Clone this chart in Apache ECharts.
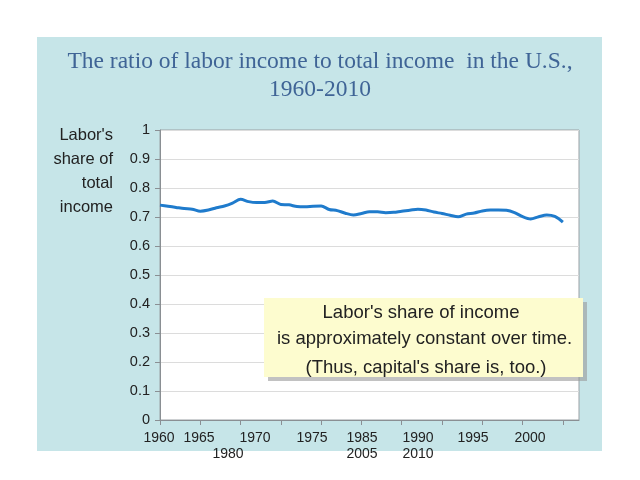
<!DOCTYPE html>
<html><head><meta charset="utf-8">
<script src="https://cdn.jsdelivr.net/npm/echarts@6/dist/echarts.min.js"></script>
<style>html,body{margin:0;padding:0;background:#fff}#c{width:640px;height:480px}</style>
</head><body><div id="c"></div>
<script>
const years = [];
for (let y = 1960; y <= 2010; y++) years.push(y);
const laborShare = [0.741,0.737,0.733,0.729,0.727,0.720,0.724,0.732,0.738,0.748,
  0.761,0.753,0.750,0.750,0.755,0.743,0.742,0.736,0.735,0.737,
  0.738,0.726,0.722,0.713,0.707,0.712,0.718,0.718,0.715,0.716,
  0.720,0.723,0.727,0.724,0.717,0.712,0.706,0.701,0.710,0.714,
  0.721,0.724,0.724,0.723,0.715,0.701,0.693,0.701,0.707,0.702,0.682];
const xTickYears = [1960,1965,1970,1975,1980,1985,1990,1995,2000,2005,2010];
const xTickLabelsRow1 = ['1960','1965','1970','1975','1985','1990','1995','2000'];
const xTickLabelsRow2 = ['1980','2005','2010'];
const row1X = [159,199,255,312,362,418,473,530];
const row2X = [228,362,418];
const yAxisName = ["Labor's", 'share of', 'total', 'income'];
const titleLines = ['The ratio of labor income to total income  in the U.S.,', '1960-2010'];
const noteLines = ["Labor's share of income", 'is approximately constant over time.', "(Thus, capital's share is, too.)"];

const SANS = '"Liberation Sans", Arial, sans-serif';
const chart = echarts.init(document.getElementById('c'));
const g = [];
g.push({type:'rect', z:-10, shape:{x:37,y:37,width:565,height:414}, style:{fill:'#c6e5e8'}});
g.push({type:'text', z:5, style:{text:titleLines[0], x:320, y:62, textAlign:'center', textVerticalAlign:'middle', font:'23.5px "Liberation Serif", "Times New Roman", serif', fill:'#3f6496'}});
g.push({type:'text', z:5, style:{text:titleLines[1], x:320, y:90, textAlign:'center', textVerticalAlign:'middle', font:'23.5px "Liberation Serif", "Times New Roman", serif', fill:'#3f6496'}});
yAxisName.forEach((t,i)=>g.push({type:'text', z:5, style:{text:t, x:113, y:135+i*24, textAlign:'right', textVerticalAlign:'middle', font:'16.5px ' + SANS, fill:'#222'}}));
xTickLabelsRow1.forEach((t,i)=>g.push({type:'text', z:5, style:{text:t, x:row1X[i], y:438, textAlign:'center', textVerticalAlign:'middle', font:'14px ' + SANS, fill:'#222'}}));
xTickLabelsRow2.forEach((t,i)=>g.push({type:'text', z:5, style:{text:t, x:row2X[i], y:454, textAlign:'center', textVerticalAlign:'middle', font:'14px ' + SANS, fill:'#222'}}));
// annotation box
g.push({type:'rect', z:20, shape:{x:268,y:302,width:319,height:79}, style:{fill:'#9a9a9a', opacity:0.6}});
g.push({type:'rect', z:21, shape:{x:264,y:298,width:319,height:79}, style:{fill:'#fdfccf'}});
g.push({type:'text', z:22, style:{text:noteLines[0], x:421, y:313, textAlign:'center', textVerticalAlign:'middle', font:'18.5px ' + SANS, fill:'#222'}});
g.push({type:'text', z:22, style:{text:noteLines[1], x:277, y:339, textAlign:'left', textVerticalAlign:'middle', font:'18.5px ' + SANS, fill:'#222'}});
g.push({type:'text', z:22, style:{text:noteLines[2], x:426, y:368, textAlign:'center', textVerticalAlign:'middle', font:'18.5px ' + SANS, fill:'#222'}});

chart.setOption({
  animation:false,
  backgroundColor:'#ffffff',
  grid:{left:160, right:61, top:130, bottom:60, show:true, backgroundColor:'#ffffff', borderColor:'#9aa0a4', borderWidth:1},
  xAxis:{type:'value', min:1960, max:2012, interval:5,
    axisLine:{show:true, lineStyle:{color:'#8a8f93'}},
    axisTick:{show:true, length:5, customValues:xTickYears, lineStyle:{color:'#8a8f93'}},
    axisLabel:{show:false}, splitLine:{show:false}},
  yAxis:{type:'value', min:0, max:1, interval:0.1,
    axisLine:{show:true, lineStyle:{color:'#8a8f93'}},
    axisTick:{show:true, length:5, lineStyle:{color:'#8a8f93'}},
    axisLabel:{fontSize:14.5, color:'#222', margin:10, fontFamily:SANS},
    splitLine:{show:true, lineStyle:{color:'#dcdcdc'}}},
  series:[{type:'line', data:years.map((y,i)=>[y, laborShare[i]]), showSymbol:false, smooth:0.3,
    lineStyle:{color:'#1f7bcc', width:3}}],
  graphic:g
});
</script></body></html>
